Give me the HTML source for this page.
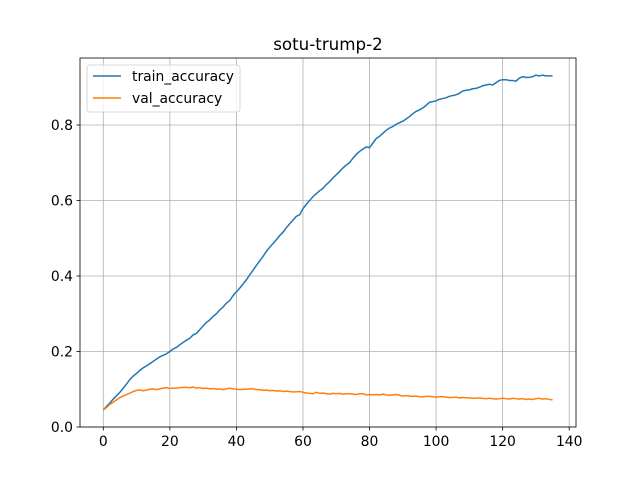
<!DOCTYPE html>
<html><head><meta charset="utf-8"><style>body{margin:0;background:#fff}svg{display:block;font-family:"DejaVu Sans","Liberation Sans",sans-serif}</style></head>
<body>
<svg id="chart" width="640" height="480"></svg>
<script>
const xTicks=[0,20,40,60,80,100,120,140];
const yTicks=[0.0,0.2,0.4,0.6,0.8];
const yTickLabels=["0.0","0.2","0.4","0.6","0.8"];
const trainAccuracy=[0.045,0.055,0.064,0.074,0.083,0.092,0.103,0.114,0.126,0.135,0.142,0.150,0.157,0.162,0.168,0.174,0.180,0.186,0.190,0.194,0.200,0.207,0.211,0.218,0.224,0.230,0.235,0.244,0.248,0.258,0.268,0.277,0.284,0.293,0.300,0.310,0.318,0.328,0.335,0.348,0.358,0.368,0.379,0.390,0.403,0.415,0.428,0.440,0.452,0.465,0.476,0.486,0.496,0.507,0.516,0.528,0.538,0.548,0.558,0.562,0.578,0.590,0.600,0.610,0.618,0.626,0.632,0.642,0.650,0.660,0.668,0.677,0.686,0.694,0.700,0.712,0.722,0.730,0.736,0.742,0.740,0.752,0.764,0.770,0.778,0.786,0.792,0.796,0.802,0.806,0.810,0.816,0.822,0.830,0.836,0.840,0.845,0.852,0.860,0.862,0.864,0.868,0.870,0.872,0.876,0.878,0.880,0.884,0.890,0.892,0.893,0.896,0.897,0.900,0.904,0.906,0.908,0.906,0.912,0.918,0.920,0.920,0.918,0.918,0.916,0.924,0.928,0.926,0.926,0.928,0.932,0.930,0.932,0.930,0.930,0.930];
const valAccuracy=[0.045,0.052,0.060,0.066,0.072,0.078,0.082,0.086,0.090,0.094,0.097,0.098,0.096,0.098,0.100,0.101,0.099,0.101,0.103,0.104,0.102,0.103,0.103,0.104,0.105,0.105,0.104,0.106,0.103,0.104,0.102,0.103,0.101,0.102,0.100,0.101,0.099,0.101,0.103,0.101,0.100,0.099,0.100,0.100,0.101,0.101,0.099,0.099,0.097,0.098,0.096,0.097,0.095,0.096,0.094,0.095,0.094,0.093,0.093,0.094,0.092,0.090,0.089,0.088,0.092,0.089,0.090,0.088,0.087,0.089,0.088,0.089,0.087,0.088,0.088,0.087,0.086,0.088,0.088,0.085,0.086,0.085,0.086,0.085,0.087,0.085,0.084,0.085,0.086,0.084,0.082,0.083,0.082,0.081,0.082,0.080,0.080,0.081,0.081,0.080,0.079,0.080,0.080,0.079,0.078,0.078,0.079,0.077,0.078,0.077,0.077,0.076,0.076,0.077,0.076,0.075,0.076,0.075,0.074,0.075,0.076,0.075,0.074,0.076,0.075,0.074,0.075,0.073,0.074,0.073,0.075,0.076,0.074,0.075,0.073,0.072];
const svg=document.getElementById('chart');
const NS='http://www.w3.org/2000/svg';
const L=80,R=576,T=58,B=427;
const xs=v=>103.3+v*(569.2-103.3)/140;
const ys=v=>427-v*(427-125)/0.8;
function mk(tag,attrs,parent){const e=document.createElementNS(NS,tag);for(const k in attrs)e.setAttribute(k,attrs[k]);(parent||svg).appendChild(e);return e;}
const grid=mk('g',{});


xTicks.forEach(t=>{const l=mk('line',{x1:xs(t),x2:xs(t),y1:T,y2:B,stroke:'#b0b0b0','stroke-width':0.8},grid);


const tk=mk('line',{x1:xs(t),x2:xs(t),y1:B,y2:B+3.5,stroke:'#000','stroke-width':0.8});


const tx=mk('text',{x:xs(t),y:B+19,'text-anchor':'middle','font-size':13.9});tx.textContent=t;

});
yTicks.forEach((t,i)=>{const l=mk('line',{x1:L,x2:R,y1:ys(t),y2:ys(t),stroke:'#b0b0b0','stroke-width':0.8},grid);


const tk=mk('line',{x1:L-3.5,x2:L,y1:ys(t),y2:ys(t),stroke:'#000','stroke-width':0.8});


const tx=mk('text',{x:L-7,y:ys(t)+5,'text-anchor':'end','font-size':13.9});tx.textContent=yTickLabels[i];

});
function series(data,color,name){const p=mk('polyline',{points:data.map((v,i)=>xs(i)+','+ys(v)).join(' '),fill:'none',stroke:color,'stroke-width':1.5});

}
series(trainAccuracy,'#1f77b4','train-accuracy-line');
series(valAccuracy,'#ff7f0e','val-accuracy-line');
const fr=mk('rect',{x:L,y:T,width:R-L,height:B-T,fill:'none',stroke:'#000','stroke-width':0.8});


const title=mk('text',{x:328,y:50,'text-anchor':'middle','font-size':16.7});title.textContent='sotu-trump-2';


const lg=mk('g',{});


mk('rect',{x:87,y:65,width:153,height:47,rx:3,fill:'#fff','fill-opacity':0.8,stroke:'#ccc','stroke-width':0.8},lg);
[['train_accuracy','#1f77b4',76],['val_accuracy','#ff7f0e',98]].forEach(([n,c,y])=>{
const e=mk('g',{},lg);


mk('line',{x1:93,x2:121,y1:y,y2:y,stroke:c,'stroke-width':1.5},e);
const t=mk('text',{x:132,y:y+5,'font-size':13.9},e);t.textContent=n;});
</script>
</body></html>
